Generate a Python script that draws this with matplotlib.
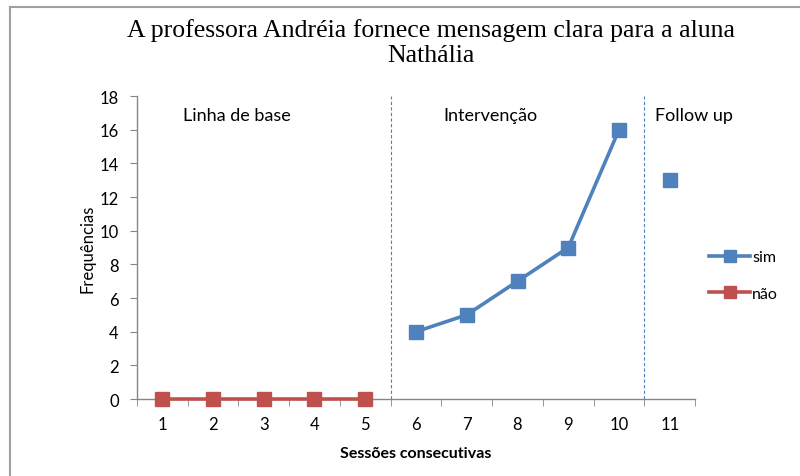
import numpy as np
import matplotlib
matplotlib.use("Agg")
import matplotlib.pyplot as plt
from matplotlib.lines import Line2D

plt.rcParams['font.family'] = ['Lato', 'DejaVu Sans']

# Sessions and frequencies
sessoes = [1, 2, 3, 4, 5, 6, 7, 8, 9, 10, 11]
sim = [np.nan, np.nan, np.nan, np.nan, np.nan, 4, 5, 7, 9, 16, np.nan]
nao = [0, 0, 0, 0, 0, np.nan, np.nan, np.nan, np.nan, np.nan, np.nan]
follow_x = [11]
follow_sim = [13]
fases = ["Linha de base", "Intervenção", "Follow up"]
limites = [5.5, 10.5]

blue = '#4F81BD'
red = '#C0504D'
gray = '#868686'

fig = plt.figure(figsize=(8, 4.77), dpi=100)
ax = fig.add_axes([0.171, 0.1614, 0.698, 0.6352])

ax.plot(sessoes, sim, color=blue, lw=2.6, marker='s', ms=9.5, label='sim', clip_on=False, zorder=3)
ax.plot(sessoes, nao, color=red, lw=2.6, marker='s', ms=9.5, label='não', clip_on=False, zorder=3)
ax.plot(follow_x, follow_sim, ls='none', color=blue, marker='s', ms=9.5, clip_on=False, zorder=3)

for b in limites:
    ax.axvline(b, color=blue, lw=0.8, ls=(0, (3, 2)), zorder=1)

ax.set_xlim(0.5, 11.5)
ax.set_ylim(0, 18)
ax.set_yticks(range(0, 19, 2))
ax.set_xticks(sessoes)
ax.set_xticks(np.arange(0.5, 12, 1), minor=True)
ax.tick_params(axis='x', which='major', length=0, pad=12, labelsize=12, colors='#000000')
ax.tick_params(axis='x', which='minor', length=5, color=gray, direction='out')
ax.tick_params(axis='y', length=5, color=gray, labelsize=12, pad=8)

for s in ['top', 'right']:
    ax.spines[s].set_visible(False)
for s in ['left', 'bottom']:
    ax.spines[s].set_color(gray)
    ax.spines[s].set_linewidth(1)

ax.set_xlabel('Sessões consecutivas', fontsize=11.5, fontweight='bold', labelpad=10)
ax.set_ylabel('Frequências', fontsize=12, labelpad=3)

ax.text(2.47, 16.9, fases[0], ha='center', va='center', fontsize=13)
ax.text(7.46, 16.9, fases[1], ha='center', va='center', fontsize=13)
ax.text(10.7, 16.9, fases[2], ha='left', va='center', fontsize=13)

fig.text(0.539, 0.91, 'A professora Andréia fornece mensagem clara para a aluna\nNathália',
         ha='center', va='center', fontsize=18.5, family='Liberation Serif', linespacing=1.2)

handles = [Line2D([], [], color=blue, lw=2.6, marker='s', ms=9),
           Line2D([], [], color=red, lw=2.6, marker='s', ms=9)]
fig.legend(handles, ['sim', 'não'], loc='center left', bbox_to_anchor=(0.876, 0.42),
           frameon=False, handlelength=2.6, handletextpad=0.1, labelspacing=1.4,
           borderpad=0, fontsize=11.5)

# page frame lines
fig.add_artist(Line2D([0.012, 1.0], [1 - 8 / 477, 1 - 8 / 477], color='#A0A0A0', lw=1.5))
fig.add_artist(Line2D([0.012, 0.012], [0, 1 - 8 / 477], color='#A0A0A0', lw=1.5))

fig.savefig('out.png', dpi=100)
